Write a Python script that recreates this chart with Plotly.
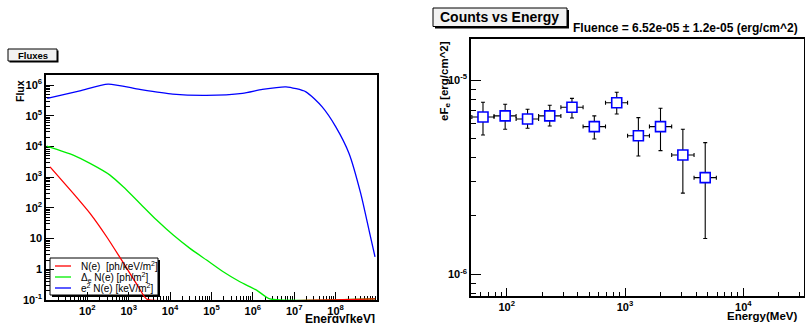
import plotly.graph_objects as go
import numpy as np

W, H = 805, 323

# ---------------- Left panel: Fluxes ----------------
red_E = [12.5, 45.6, 116, 292, 736, 1667, 2704, 9.0e8]
red_N = [2180, 297, 66.2, 11.5, 1.65, 0.284, 0.1, 0.1]

green_E = [10.4, 45.6, 116, 352, 736, 1866, 4720, 11900, 30100, 76200, 192000,
           485000, 1230000, 2580000, 9.0e8]
green_N = [10300, 5250, 2810, 1170, 486, 140, 40.1, 13.0, 4.80, 2.00, 0.83,
           0.392, 0.21, 0.1, 0.1]

blue_E = [10.7, 65.9, 317, 1840, 11480, 74500, 559000, 1694000, 6310000,
          19150000, 47300000, 101000000, 211000000, 404000000, 641000000, 895000000]
blue_N = [369000, 652000, 1080000, 725000, 509000, 462000, 537000, 724000, 881000,
          605000, 196000, 43900, 5960, 296, 18.9, 2.55]

legend_labels = ["N(e)  [ph/keV/m<sup>2</sup>]",
                 "Δ<sub>e</sub> N(e) [ph/m<sup>2</sup>]",
                 "e<sup>2</sup> N(e) [keV/m<sup>2</sup>]"]
legend_colors = ["#ff0000", "#00ee00", "#0000ff"]

left_xticks = [1e2, 1e3, 1e4, 1e5, 1e6, 1e7, 1e8]
left_xticktext = ["10<sup>2</sup>", "10<sup>3</sup>", "10<sup>4</sup>", "10<sup>5</sup>",
                  "10<sup>6</sup>", "10<sup>7</sup>", "10<sup>8</sup>"]
left_yticks = [1e-1, 1, 10, 1e2, 1e3, 1e4, 1e5, 1e6]
left_yticktext = ["10<sup>-1</sup>", "1", "10", "10<sup>2</sup>", "10<sup>3</sup>",
                  "10<sup>4</sup>", "10<sup>5</sup>", "10<sup>6</sup>"]

# ---------------- Right panel: Counts vs Energy ----------------
energy = [63, 97, 150, 231, 356, 550, 851, 1297, 1995, 3083, 4764]
e_lo = [50.7, 78.1, 120, 186, 287, 442, 684, 1051, 1609, 2480, 3833]
e_hi = [78.1, 120, 186, 287, 442, 684, 1051, 1609, 2480, 3833, 5916]
eFe = [6.47e-6, 6.55e-6, 6.32e-6, 6.55e-6, 7.26e-6, 5.77e-6, 7.66e-6, 5.18e-6, 5.77e-6, 4.12e-6, 3.15e-6]
eFe_hi = [7.70e-6, 7.52e-6, 7.09e-6, 7.43e-6, 8.07e-6, 6.55e-6, 8.67e-6, 6.42e-6, 7.17e-6, 5.59e-6, 4.77e-6]
eFe_lo = [5.22e-6, 5.59e-6, 5.66e-6, 5.81e-6, 6.39e-6, 4.98e-6, 6.70e-6, 4.07e-6, 4.34e-6, 2.62e-6, 1.53e-6]

right_xticks = [1e2, 1e3, 1e4]
right_xticktext = ["10<sup>2</sup>", "10<sup>3</sup>", "10<sup>4</sup>"]
right_yticks = [1e-6, 1e-5]
right_yticktext = ["10<sup>-6</sup>", "10<sup>-5</sup>"]

# ------------------------------------------------------------------
def px(x):
    return x / W

def py(y):
    return 1 - y / H

FONT = "Liberation Sans"
FLOOR = 0.108  # values below the axis minimum are drawn along the bottom (ROOT style)

fig = go.Figure()
order = [(green_E, green_N, legend_colors[1], 0.5),
         (red_E, red_N, legend_colors[0], 0.4),
         (blue_E, blue_N, legend_colors[2], 0.6)]
for E, N, c, sm in order:
    fig.add_trace(go.Scatter(x=E, y=np.maximum(np.array(N, float), FLOOR), mode="lines",
                             line=dict(color=c, width=1.3, shape="spline", smoothing=sm),
                             xaxis="x", yaxis="y", showlegend=False, hoverinfo="skip"))

energy_a = np.array(energy, float)
eFe_a = np.array(eFe, float)
fig.add_trace(go.Scatter(
    x=energy, y=eFe, mode="markers", xaxis="x2", yaxis="y2", showlegend=False,
    marker=dict(symbol="square", size=10, color="white", line=dict(color="#0000ff", width=1.6)),
    error_x=dict(type="data", symmetric=False, array=np.array(e_hi) - energy_a,
                 arrayminus=energy_a - np.array(e_lo), color="black", thickness=1.1, width=2),
    error_y=dict(type="data", symmetric=False, array=np.array(eFe_hi) - eFe_a,
                 arrayminus=eFe_a - np.array(eFe_lo), color="black", thickness=1.1, width=2),
))

def minor_vals(kmin, kmax):
    return [m * 10.0 ** k for k in range(kmin, kmax + 1) for m in range(2, 10)]

tickfont = dict(family=FONT, size=11, color="black", weight="bold")
axis_common = dict(type="log", showline=True, linecolor="black", linewidth=1.5, mirror=True,
                   ticks="inside", tickcolor="black", tickwidth=1, showgrid=False,
                   zeroline=False, tickmode="array", tickfont=tickfont, automargin=False)

fig.update_layout(
    width=W, height=H, margin=dict(l=0, r=0, t=0, b=0, autoexpand=False),
    paper_bgcolor="white", plot_bgcolor="rgba(0,0,0,0)",
    xaxis=dict(axis_common, domain=[px(46), px(377)], range=[1, 9], anchor="y",
               tickvals=left_xticks, ticktext=left_xticktext, ticklen=8, layer="below traces",
               minor=dict(tickmode="array", tickvals=minor_vals(1, 8), ticks="inside",
                          ticklen=4, tickcolor="black", tickwidth=1, showgrid=False)),
    yaxis=dict(axis_common, domain=[py(300), py(75)], range=[-1, 6.33], anchor="x",
               tickvals=left_yticks, ticktext=left_yticktext, ticklen=8, layer="below traces",
               minor=dict(tickmode="array", tickvals=minor_vals(-1, 6), ticks="inside",
                          ticklen=4, tickcolor="black", tickwidth=1, showgrid=False)),
    xaxis2=dict(axis_common, domain=[px(471), px(804)], range=[1.698, 4.513], anchor="y2",
                tickvals=right_xticks, ticktext=right_xticktext, ticklen=8,
                minor=dict(tickmode="array", tickvals=minor_vals(1, 4), ticks="inside",
                           ticklen=4, tickcolor="black", tickwidth=1, showgrid=False)),
    yaxis2=dict(axis_common, domain=[py(295.7), py(39.3)], range=[-6.11, -4.789], anchor="x2",
                tickvals=right_yticks, ticktext=right_yticktext, ticklen=10,
                minor=dict(tickmode="array", tickvals=minor_vals(-7, -5), ticks="inside",
                           ticklen=5, tickcolor="black", tickwidth=1, showgrid=False)),
)

shapes = []
annotations = []

def shadow_box(x0, y0, x1, y1, fill, shadow=2, layer="above"):
    shapes.append(dict(type="rect", xref="paper", yref="paper", layer=layer,
                       x0=px(x0 + shadow), x1=px(x1 + shadow), y0=py(y1 + shadow), y1=py(y0 + shadow),
                       fillcolor="black", line=dict(width=0)))
    shapes.append(dict(type="rect", xref="paper", yref="paper", layer=layer,
                       x0=px(x0), x1=px(x1), y0=py(y1), y1=py(y0),
                       fillcolor=fill, line=dict(color="black", width=1)))

def text(x, y, s, size, bold=True, xanchor="center", yanchor="middle", angle=0):
    annotations.append(dict(xref="paper", yref="paper", x=px(x), y=py(y), text=s,
                            showarrow=False, xanchor=xanchor, yanchor=yanchor, textangle=angle,
                            font=dict(family=FONT, size=size, color="black",
                                      weight="bold" if bold else "normal")))

# title boxes
shadow_box(8, 49, 57, 61, "#f2f2f2", shadow=1.5)
text(32.5, 55.5, "Fluxes", 9.5)
shadow_box(433, 8, 567, 26.5, "#f2f2f2", shadow=2)
text(500, 17.5, "Counts vs Energy", 14)
text(800, 28, "Fluence = 6.52e-05 ± 1.2e-05 (erg/cm^2)", 12, xanchor="right")

# axis titles
text(20, 78, "Flux", 10.5, angle=-90, yanchor="top")
text(377, 319, "Energy[keV]", 12, xanchor="right")
text(445, 39, "eF<sub>e</sub> [erg/cm^2]", 11.5, angle=-90, yanchor="top")
text(799, 316, "Energy(MeV)", 11.5, xanchor="right")

# legend (left panel)
shadow_box(50, 258, 158, 295, "white", shadow=2, layer="below")
rows = [266, 277, 288]
for lab, col, ry in zip(legend_labels, legend_colors, rows):
    shapes.append(dict(type="line", xref="paper", yref="paper", x0=px(55), x1=px(71),
                       y0=py(ry), y1=py(ry), line=dict(color=col, width=1.3)))
    text(79, ry, lab, 10, bold=False, xanchor="left")

fig.update_layout(shapes=shapes, annotations=annotations)
fig.write_html("out.html", config={"displayModeBar": False},
               post_script="document.body.style.margin='0px';document.body.style.overflow='hidden';")
